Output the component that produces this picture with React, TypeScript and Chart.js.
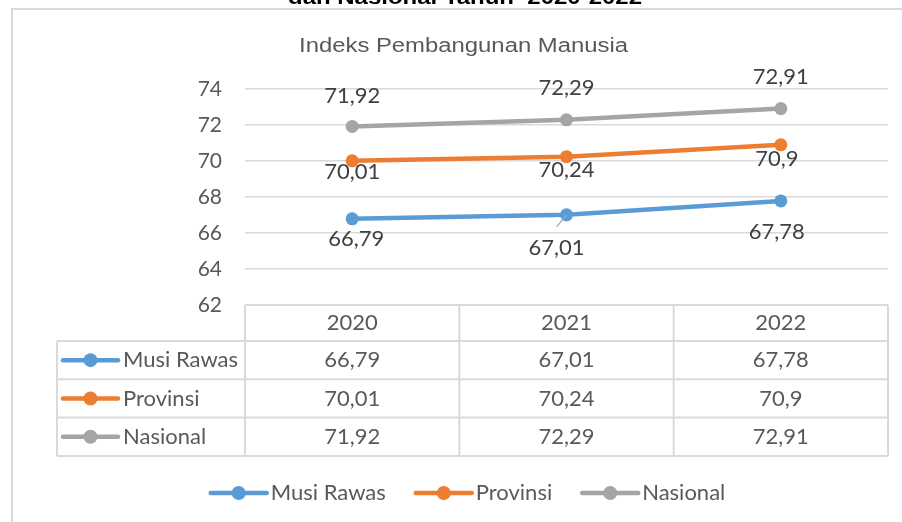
import React, { useEffect, useRef } from "react";
import { Chart, registerables } from "chart.js";

Chart.register(...registerables);

// ---- data ----
const years = ["2020", "2021", "2022"];
const seriesNames = ["Musi Rawas", "Provinsi", "Nasional"];
const musiRawas = [66.79, 67.01, 67.78];
const provinsi = [70.01, 70.24, 70.9];
const nasional = [71.92, 72.29, 72.91];
const yMin = 62;
const yMax = 74;
const yStep = 2;
const chartTitle = "Indeks Pembangunan Manusia";
const pageHeading = "dan Nasional Tahun  2020-2022";

// ---- styles ----
const colors = ["#5B9BD5", "#ED7D31", "#A5A5A5"];
const FONT = "Lato, 'Noto Sans', sans-serif";
const TEXT_SIZE = 22;
const fmt = (v: number) => String(v).replace(".", ",");

// data label offsets [dx, dy] per series / point (placement only)
const labelOffsets = [
  [[4, 20], [-10, 33], [-4, 31]],
  [[0, 11], [0, 13], [-4, 14]],
  [[0, -31], [0, -32], [0, -32]],
];

function drawFit(ctx: CanvasRenderingContext2D, text: string, cx: number, y: number, target: number) {
  const w = ctx.measureText(text).width;
  const sx = target / w;
  ctx.save();
  ctx.translate(cx, y);
  ctx.scale(sx, 1);
  ctx.textAlign = "center";
  ctx.fillText(text, 0, 0);
  ctx.restore();
}

function drawKey(ctx: CanvasRenderingContext2D, x0: number, x1: number, y: number, color: string) {
  ctx.strokeStyle = color;
  ctx.lineWidth = 4.5;
  ctx.lineCap = "round";
  ctx.beginPath();
  ctx.moveTo(x0, y);
  ctx.lineTo(x1, y);
  ctx.stroke();
  ctx.fillStyle = color;
  ctx.beginPath();
  ctx.arc((x0 + x1) / 2, y, 7, 0, Math.PI * 2);
  ctx.fill();
}

const decorPlugin = {
  id: "decor",
  beforeDraw(chart: any) {
    const ctx: CanvasRenderingContext2D = chart.ctx;
    ctx.save();
    ctx.strokeStyle = "#D9D9D9";
    ctx.lineWidth = 2;
    ctx.beginPath();
    ctx.moveTo(12, 540);
    ctx.lineTo(12, 9);
    ctx.lineTo(920, 9);
    ctx.stroke();

    ctx.fillStyle = "#000000";
    ctx.font = "bold 21px 'Liberation Sans', Arial, sans-serif";
    ctx.textBaseline = "alphabetic";
    drawFit(ctx, pageHeading, 465, 4, 354);

    ctx.fillStyle = "#595959";
    ctx.font = "20px 'Liberation Sans', Arial, sans-serif";
    drawFit(ctx, chartTitle, 463.5, 52, 329);
    ctx.restore();
  },
  afterDatasetsDraw(chart: any) {
    const ctx: CanvasRenderingContext2D = chart.ctx;
    ctx.save();
    ctx.font = `${TEXT_SIZE}px ${FONT}`;
    ctx.fillStyle = "#404040";
    ctx.textAlign = "center";
    ctx.textBaseline = "middle";
    chart.data.datasets.forEach((ds: any, si: number) => {
      const meta = chart.getDatasetMeta(si);
      meta.data.forEach((pt: any, i: number) => {
        const [dx, dy] = labelOffsets[si][i];
        const lx = pt.x + dx;
        const ly = pt.y + dy;
        if (si === 0 && i === 1) {
          ctx.strokeStyle = "#A6A6A6";
          ctx.lineWidth = 1.2;
          ctx.beginPath();
          ctx.moveTo(lx, ly - 21);
          ctx.lineTo(pt.x, pt.y);
          ctx.stroke();
        }
        ctx.fillText(fmt(ds.data[i]), lx, ly);
      });
    });
    ctx.restore();
  },
  afterDraw(chart: any) {
    const ctx: CanvasRenderingContext2D = chart.ctx;
    const ca = chart.chartArea;
    const n = years.length;
    const band = (ca.right - ca.left) / n;
    const top = ca.bottom;
    const headerH = 36;
    const rowH = 38.3;
    const tableLeft = 57;
    const rowsTop = top + headerH;
    const bottom = rowsTop + rowH * seriesNames.length;
    ctx.save();
    ctx.strokeStyle = "#DADADA";
    ctx.lineWidth = 2;
    ctx.beginPath();
    ctx.moveTo(ca.left, top);
    ctx.lineTo(ca.right, top);
    for (let r = 0; r <= seriesNames.length; r++) {
      const y = rowsTop + r * rowH;
      ctx.moveTo(tableLeft, y);
      ctx.lineTo(ca.right, y);
    }
    ctx.moveTo(tableLeft, rowsTop);
    ctx.lineTo(tableLeft, bottom);
    for (let j = 0; j <= n; j++) {
      const x = ca.left + j * band;
      ctx.moveTo(x, top);
      ctx.lineTo(x, bottom);
    }
    ctx.stroke();

    ctx.font = `${TEXT_SIZE}px ${FONT}`;
    ctx.fillStyle = "#595959";
    ctx.textBaseline = "middle";
    ctx.textAlign = "center";
    years.forEach((yr, j) => {
      ctx.fillText(yr, ca.left + (j + 0.5) * band, top + headerH / 2);
    });
    chart.data.datasets.forEach((ds: any, si: number) => {
      const cy = rowsTop + (si + 0.5) * rowH;
      ds.data.forEach((v: number, j: number) => {
        ctx.fillStyle = "#595959";
        ctx.textAlign = "center";
        ctx.fillText(fmt(v), ca.left + (j + 0.5) * band, cy);
      });
      drawKey(ctx, 63, 118, cy, colors[si]);
      ctx.fillStyle = "#595959";
      ctx.textAlign = "left";
      ctx.fillText(seriesNames[si], 123, cy);
    });

    // legend
    const keyW = 56;
    const gap = 4;
    const itemGap = 30;
    const widths = seriesNames.map((s) => ctx.measureText(s).width);
    const total = widths.reduce((a, w) => a + keyW + gap + w, 0) + itemGap * (seriesNames.length - 1);
    let x = 468 - total / 2;
    const ly = 493;
    seriesNames.forEach((s, i) => {
      drawKey(ctx, x, x + keyW, ly, colors[i]);
      ctx.fillStyle = "#595959";
      ctx.textAlign = "left";
      ctx.fillText(s, x + keyW + gap, ly);
      x += keyW + gap + widths[i] + itemGap;
    });
    ctx.restore();
  },
};

export default function App() {
  const ref = useRef<HTMLCanvasElement | null>(null);
  useEffect(() => {
    if (!ref.current) return;
    const series = [musiRawas, provinsi, nasional];
    const chart = new Chart(ref.current, {
      type: "line",
      data: {
        labels: years,
        datasets: series.map((d, i) => ({
          label: seriesNames[i],
          data: d,
          borderColor: colors[i],
          backgroundColor: colors[i],
          borderWidth: 4.5,
          pointRadius: 6.5,
          pointBackgroundColor: colors[i],
          pointBorderColor: colors[i],
          pointBorderWidth: 0,
          tension: 0,
          fill: false,
        })),
      },
      options: {
        animation: false,
        responsive: false,
        events: [],
        layout: { padding: { top: 89, right: 14, bottom: 217, left: 0 } },
        plugins: {
          legend: { display: false },
          tooltip: { enabled: false },
          title: { display: false },
        },
        scales: {
          x: { type: "category", display: false, offset: true },
          y: {
            min: yMin,
            max: yMax,
            ticks: {
              stepSize: yStep,
              color: "#595959",
              font: { family: FONT, size: 21 },
              padding: 23,
            },
            grid: { color: "#D9D9D9", lineWidth: 1.5, drawTicks: false },
            border: { display: false },
            afterFit: (s: any) => {
              s.width = 245;
            },
          },
        },
      },
      plugins: [decorPlugin],
    } as any);
    let alive = true;
    Promise.all([
      document.fonts.load(`20px Lato`),
      document.fonts.load(`20px 'Liberation Sans'`),
      document.fonts.load(`bold 21px 'Liberation Sans'`),
    ])
      .then(() => {
        if (alive) chart.update();
      })
      .catch(() => {});
    return () => {
      alive = false;
      chart.destroy();
    };
  }, []);
  return (
    <div style={{ position: "absolute", left: 0, top: 0, width: 902, height: 522, background: "#ffffff" }}>
      <canvas ref={ref} width={902} height={522} style={{ display: "block" }} />
    </div>
  );
}
